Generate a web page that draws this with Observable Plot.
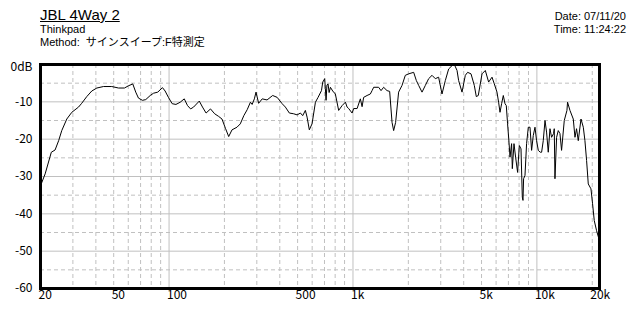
<!DOCTYPE html>
<html>
<head>
<meta charset="utf-8">
<script src="https://cdn.jsdelivr.net/npm/d3@7"></script>
<script src="https://cdn.jsdelivr.net/npm/@observablehq/plot@0.6"></script>
<style>
  html, body { margin: 0; padding: 0; background: white; }
  #wrap { width: 640px; height: 320px; position: relative; overflow: hidden; color: black; }
  #hdr { position: relative; width: 640px; height: 56px; font-family: "Liberation Sans", "Noto Sans CJK JP", sans-serif; }
  #hdr div { position: absolute; white-space: pre; }
  .s { font-size: 11px; line-height: 11px; }
</style>
</head>
<body>
<div id="wrap">
  <div id="hdr">
    <div id="title" style="left:40px; top:6.8px; font-size:15px; line-height:15px; text-decoration:underline;"></div>
    <div id="sub1" class="s" style="left:40px; top:24.2px;"></div>
    <div id="sub2" class="s" style="left:40px; top:36.7px;"></div>
    <div id="date" class="s" style="right:14px; top:11.4px; text-align:right;"></div>
    <div id="time" class="s" style="right:14px; top:23.9px; text-align:right;"></div>
  </div>
  <div id="chart"></div>
</div>
<script>
// ---- texts ----
const titleText = "JBL 4Way 2";
const subtitleLines = ["Thinkpad", "Method:  サインスイープ:F特測定"];
const stampLines = ["Date: 07/11/20", "Time: 11:24:22"];

// ---- axis ticks and labels ----
const xTicks = [20, 50, 100, 500, 1000, 5000, 10000, 20000];
const xTickLabels = ["20", "50", "100", "500", "1k", "5k", "10k", "20k"];
const yTicks = [0, -10, -20, -30, -40, -50, -60];
const yTickLabels = ["0dB", "-10", "-20", "-30", "-40", "-50", "-60"];

// ---- grid ----
const xGridMajor = [100, 1000, 10000];
const xGridMinor = [30, 40, 50, 60, 70, 80, 90, 200, 300, 400, 500, 600, 700, 800, 900,
                    2000, 3000, 4000, 5000, 6000, 7000, 8000, 9000, 20000];
const yGridMajor = [-10, -20, -30, -40, -50];
const yGridMinor = [-5, -15, -25, -35, -45, -55];

// ---- series: frequency (Hz) and level (dB) ----
const freqHz = [
  20, 21.2, 22.9, 24.0, 25.1, 26.1, 27.8, 29.6, 32.2, 33.5, 35.7, 38.0, 40.5, 44.0, 48.8,
  53.1, 57.2, 60.2, 63.5, 65.9, 68.2, 71.7, 74.7, 79.0, 82.3, 86.8, 92.1, 95.2, 99.2,
  104, 109, 115, 121, 126, 131, 136, 146, 152, 159, 168, 177, 186, 194, 203, 211, 220,
  234, 244, 255, 266, 277, 283, 291, 297, 307, 321, 341, 366, 387, 412, 429, 451, 476,
  497, 518, 533, 551, 563, 579, 599, 625, 646, 674, 685, 702, 708, 714, 722, 732, 742,
  754, 776, 802, 836, 873, 910, 929, 948, 989,
  1009, 1053, 1097, 1121, 1143, 1193, 1243, 1270, 1296, 1379, 1421, 1468, 1532, 1583,
  1631, 1664, 1706, 1771, 1848, 1926, 2008, 2138, 2211, 2276, 2374, 2475, 2579, 2691,
  2804, 2922, 3049, 3178, 3313, 3457, 3558, 3680, 3754, 3917, 4082, 4201, 4383, 4568,
  4684, 4802, 5031, 5244, 5465, 5702, 5869, 6069, 6192, 6302, 6430, 6568, 6709, 6818,
  6929, 7052, 7143, 7288, 7353, 7508, 7660, 7855, 8024, 8197, 8331, 8404, 8467, 8617,
  8790, 8981, 9174, 9359, 9559, 9765, 9963,
  10180, 10430, 10610, 10830, 11070, 11290, 11530, 11780, 12020, 12320, 12430, 12540,
  12800, 13070, 13350, 13620, 14090, 14570, 14680, 15130, 15770, 16110, 16430, 16790,
  17370, 17880, 18250, 18630, 19030, 19680, 20080, 20510, 21110, 21750, 21900
];
const levelDb = [
  -32.5, -29.3, -23.5, -22.9, -20.4, -17.7, -14.6, -12.8, -11.4, -10.4, -8.6, -7.1, -6.3, -5.9, -5.9,
  -6.3, -6.3, -5.7, -5.2, -7.4, -9.0, -9.6, -9.4, -8.3, -7.7, -7.4, -6.2, -7.1, -8.8,
  -10.5, -10.7, -10.1, -9.2, -11.0, -11.9, -11.4, -9.8, -11.4, -13.0, -11.9, -13.2, -13.9, -14.6, -17.2, -19.3, -17.5,
  -16.8, -15.9, -13.7, -12.1, -10.1, -10.7, -9.2, -7.4, -10.4, -9.2, -9.5, -8.3, -8.8, -10.5, -11.4, -13.0, -13.2,
  -13.5, -13.0, -13.7, -12.3, -14.1, -17.5, -15.9, -10.1, -8.8, -7.0, -4.7, -3.8, -6.5, -9.6, -5.5, -5.2, -7.5,
  -6.1, -7.1, -7.9, -12.3, -11.0, -10.1, -11.4, -11.8, -13.0,
  -11.8, -11.8, -9.2, -11.3, -8.8, -8.3, -7.9, -7.0, -6.1, -6.1, -7.0, -6.1, -7.0, -7.2,
  -15.5, -17.7, -15.5, -7.4, -5.6, -2.9, -2.5, -2.1, -4.3, -5.6, -7.4, -5.6, -3.8, -2.9,
  -3.8, -3.4, -7.9, -4.3, -1.2, -0.3, 0, -1.6, -4.3, -7.4, -2.9, -2.1, -2.5, -5.6,
  -8.6, -8.3, -2.5, -1.6, -4.7, -3.4, -5.2, -7.4, -10.1, -12.8, -10.5, -8.3, -10.5, -11.0,
  -15.9, -20.8, -24.8, -21.2, -27.9, -21.2, -24.8, -28.9, -21.7, -22.6, -35.5, -36.4, -30.6, -29.7,
  -21.2, -16.8, -16.8, -23.0, -19.0, -16.8, -20.4,
  -23.0, -23.5, -23.5, -20.4, -15.0, -18.1, -23.5, -17.2, -19.5, -18.5, -17.2, -30.6,
  -19.5, -17.7, -18.5, -23.0, -15.0, -12.3, -10.1, -12.3, -14.6, -19.5, -17.2, -20.4,
  -14.6, -16.8, -20.4, -25.7, -32.0, -33.3, -37.3, -41.8, -44.5, -46.7, -47.1
];

// ---- header ----
document.getElementById("title").textContent = titleText;
document.getElementById("sub1").textContent = subtitleLines[0];
document.getElementById("sub2").textContent = subtitleLines[1];
document.getElementById("date").textContent = stampLines[0];
document.getElementById("time").textContent = stampLines[1];

// ---- chart ----
const data = freqHz.map((f, i) => ({f, db: levelDb[i]}));
const xLabelData = xTicks.map((t, i) => ({t, label: xTickLabels[i]}));
const yLabelMap = new Map(yTicks.map((t, i) => [t, yTickLabels[i]]));
const gridColor = "#c0c0c0";

const chart = Plot.plot({
  width: 640,
  height: 264,
  marginTop: 8,
  marginBottom: 32,
  marginLeft: 40,
  marginRight: 41,
  style: {fontFamily: '"Noto Sans CJK JP", sans-serif', fontSize: "12px", color: "black", background: "white", overflow: "visible"},
  x: {type: "log", domain: [20, 21900], axis: null},
  y: {domain: [-60, 0]},
  marks: [
    Plot.ruleY(yGridMinor, {stroke: gridColor, strokeDasharray: "4,3"}),
    Plot.ruleX(xGridMinor, {stroke: gridColor, strokeDasharray: "4,3"}),
    Plot.ruleY(yGridMajor, {stroke: gridColor}),
    Plot.ruleX(xGridMajor, {stroke: gridColor}),
    Plot.line(data, {x: "f", y: "db", stroke: "black", strokeWidth: 1}),
    Plot.frame({stroke: "black", strokeWidth: 3}),
    Plot.text(xLabelData, {x: "t", text: "label", frameAnchor: "bottom", lineAnchor: "top", textAnchor: "start", dx: -2, dy: 2, fontSize: 12, fill: "black"}),
    Plot.axisY(yTicks.filter(d => d !== 0), {tickSize: 0, tickPadding: 8, tickFormat: d => yLabelMap.get(d), label: null}),
    Plot.axisY([0], {tickSize: 0, tickPadding: 8, dy: 3, tickFormat: d => yLabelMap.get(d), label: null})
  ]
});
document.getElementById("chart").appendChild(chart);
</script>
</body>
</html>
